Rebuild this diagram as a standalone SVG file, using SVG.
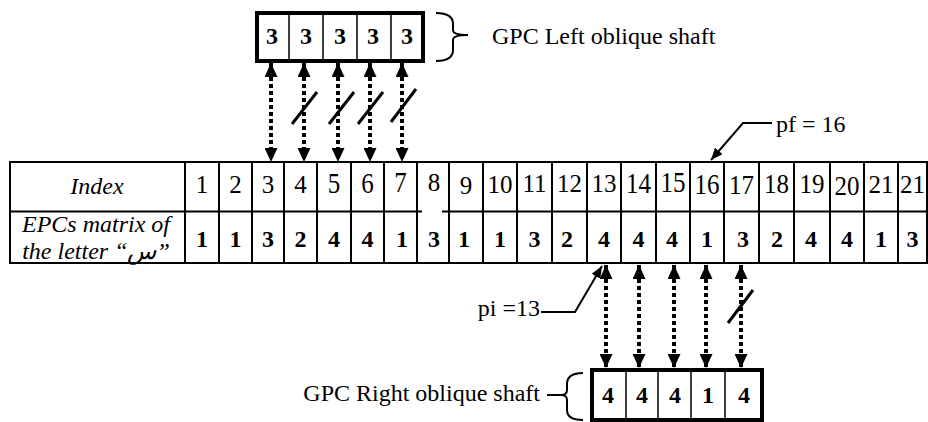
<svg xmlns="http://www.w3.org/2000/svg" width="928" height="422" viewBox="0 0 928 422">
<style>
text{font-family:"Liberation Serif","DejaVu Sans",serif;fill:#000}
.n{font-size:25px;text-anchor:middle}
.b{font-size:24px;font-weight:bold;text-anchor:middle}
.bx{font-size:24px;font-weight:bold;text-anchor:middle}
.it{font-size:24px;font-style:italic;text-anchor:middle}
.lbl{font-size:24px}
.grid{stroke:#000;stroke-width:2;fill:none}
.thick{stroke:#000;stroke-width:4;fill:#fff}
.thin{stroke:#000;stroke-width:1.5}
.dot{stroke:#000;stroke-width:4;stroke-dasharray:4 3;fill:none}
.slash{stroke:#000;stroke-width:3;fill:none}
.lead{stroke:#000;stroke-width:2;fill:none}
.brace{stroke:#000;stroke-width:2;fill:none}
</style>
<defs>
<marker id="ah" viewBox="0 0 14 13" refX="14" refY="6.5" markerWidth="14" markerHeight="13" orient="auto-start-reverse" markerUnits="userSpaceOnUse"><path d="M0,0 L14,6.5 L0,13 Z" fill="#000"/></marker>
<marker id="ahs" viewBox="0 0 12 10" refX="12" refY="5" markerWidth="12" markerHeight="10" orient="auto" markerUnits="userSpaceOnUse"><path d="M0,0 L12,5 L0,10 Z" fill="#000"/></marker>
</defs>
<rect width="928" height="422" fill="#fff"/>

<g id="table">
<rect class="grid" x="10" y="162" width="917" height="101"/>
<path class="grid" d="M10,211.5H422M442,211.5H927"/>
<path class="grid" d="M185,162V263M219,162V263M252,162V263M284,162V263M317,162V263M351,162V263M384,162V263M417,162V263M449,162V263M483,162V263M517,162V263M552,162V263M587,162V263M621,162V263M656,162V263M690,162V263M724,162V263M759,162V263M794,162V263M830,162V263M864,162V263M898,162V263"/>
<text class="it" x="97" y="194">Index</text>
<text class="it" x="96" y="232">EPCs matrix of</text>
<text class="it" x="96" y="259">the letter “س”</text>
<g class="n">
<text x="202" y="193">1</text>
<text x="235.5" y="193">2</text>
<text x="268" y="193">3</text>
<text x="300.5" y="193">4</text>
<text transform="translate(334,193) scale(1,1.2)">5</text>
<text transform="translate(367.5,193) scale(1,1.2)">6</text>
<text transform="translate(400.5,192) scale(1,1.2)">7</text>
<text x="434" y="191">8</text>
<text x="466" y="194">9</text>
<text x="500" y="193">10</text>
<text x="534.5" y="192">11</text>
<text x="569.5" y="192">12</text>
<text x="604" y="192">13</text>
<text transform="translate(638.5,193) scale(1,1.15)">14</text>
<text transform="translate(673,192) scale(1,1.15)">15</text>
<text transform="translate(707,194) scale(1,1.15)">16</text>
<text transform="translate(741.5,194) scale(1,1.08)">17</text>
<text transform="translate(776.5,193) scale(1,1.08)">18</text>
<text transform="translate(812,193) scale(1,1.08)">19</text>
<text transform="translate(847,195) scale(1,1.06)">20</text>
<text x="881" y="193">21</text>
<text x="912.5" y="193">21</text>
</g>
<g class="b">
<text x="202" y="247">1</text>
<text x="235.5" y="247">1</text>
<text x="268" y="247">3</text>
<text x="300.5" y="247">2</text>
<text x="334" y="247">4</text>
<text x="367.5" y="247">4</text>
<text x="402" y="247">1</text>
<text x="434" y="247">3</text>
<text x="464" y="247">1</text>
<text x="500" y="247">1</text>
<text x="534.5" y="247">3</text>
<text x="567" y="247">2</text>
<text x="604" y="247">4</text>
<text x="638.5" y="247">4</text>
<text x="672" y="247">4</text>
<text x="707" y="247">1</text>
<text x="743" y="247">3</text>
<text x="777" y="247">2</text>
<text x="811" y="247">4</text>
<text x="847" y="247">4</text>
<text x="881" y="247">1</text>
<text x="912.5" y="247">3</text>
</g>
</g>

<g id="left-shaft">
<rect class="thick" x="257" y="13" width="166" height="48"/>
<path class="thin" d="M289,13V61M323,13V61M357,13V61M391,13V61"/>
<g class="bx">
<text x="272" y="44">3</text>
<text x="306" y="44">3</text>
<text x="340" y="44">3</text>
<text x="373" y="44">3</text>
<text x="407" y="44">3</text>
</g>
<path class="brace" d="M436,13 Q453,13 453,24 L453,30 Q453,35 468,35 Q453,35 453,40 L453,50 Q453,61 436,61"/>
<text class="lbl" x="492" y="44">GPC Left oblique shaft</text>
</g>

<g id="right-shaft">
<rect class="thick" x="592" y="370" width="170" height="50"/>
<path class="thin" d="M626,370V420M658,370V420M691,370V420M725,370V420"/>
<g class="bx">
<text x="608" y="403">4</text>
<text x="642" y="403">4</text>
<text x="675" y="403">4</text>
<text x="708" y="403">1</text>
<text x="744" y="403">4</text>
</g>
<path class="brace" d="M583,373 Q567,373 567,384 L567,390 Q567,395 561,395 Q567,395 567,400 L567,410 Q567,420 583,420 M547,395 H561"/>
<text class="lbl" x="540" y="401" text-anchor="end">GPC Right oblique shaft</text>
</g>

<g id="connectors">
<g class="dot" marker-start="url(#ah)" marker-end="url(#ah)">
<line x1="271" y1="63" x2="271" y2="162"/>
<line x1="304" y1="63" x2="304" y2="162"/>
<line x1="338" y1="63" x2="338" y2="162"/>
<line x1="370" y1="63" x2="370" y2="162"/>
<line x1="402" y1="63" x2="402" y2="162"/>
<line x1="606" y1="265" x2="606" y2="368"/>
<line x1="639" y1="265" x2="639" y2="368"/>
<line x1="674" y1="265" x2="674" y2="368"/>
<line x1="706" y1="265" x2="706" y2="368"/>
<line x1="741" y1="265" x2="741" y2="368"/>
</g>
<g class="slash">
<line x1="292" y1="124" x2="317" y2="92"/>
<line x1="329" y1="124" x2="354" y2="92"/>
<line x1="358" y1="124" x2="383" y2="92"/>
<line x1="391" y1="122" x2="416" y2="89"/>
<line x1="728" y1="323" x2="753" y2="290"/>
</g>
<polyline class="lead" points="772,123 743,123 711,160" marker-end="url(#ahs)"/>
<polyline class="lead" points="541,312 575,312 602,266" marker-end="url(#ahs)"/>
</g>

<g id="labels">
<text class="lbl" x="776" y="132">pf = 16</text>
<text class="lbl" x="540" y="316" text-anchor="end">pi =13</text>
</g>
</svg>
